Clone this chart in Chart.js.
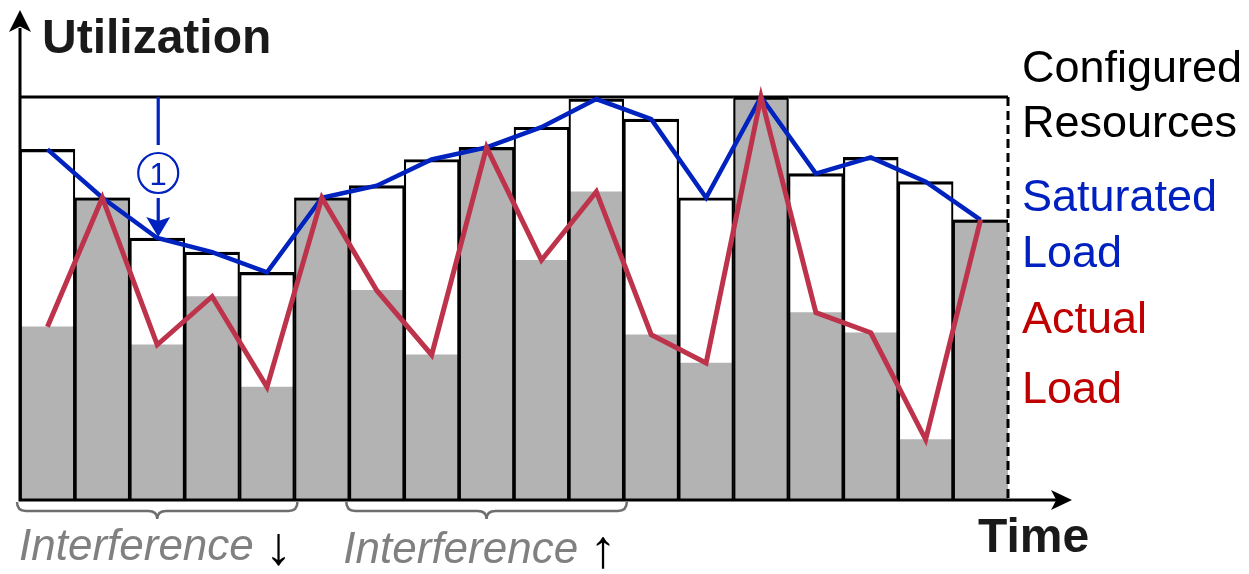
<!DOCTYPE html>
<html lang="en">
<head>
  <meta charset="UTF-8">
  <title>Utilization over time</title>
  <script src="https://cdn.jsdelivr.net/npm/chart.js@4.4.0/dist/chart.umd.min.js"></script>
  <style>
    html, body { margin: 0; padding: 0; background: #fff; }
    .chart-box { width: 1249px; height: 574px; position: relative; }
  </style>
</head>
<body>
  <div class="chart-box"><canvas id="utilChart"></canvas></div>

  <script>
    // 18 time slots along the x axis
    const slots = ['t1', 't2', 't3', 't4', 't5', 't6', 't7', 't8', 't9',
                   't10', 't11', 't12', 't13', 't14', 't15', 't16', 't17', 't18'];
    // utilization in % of the configured resources
    const saturatedLoad = [87, 75, 65, 61.5, 56.5, 75, 78, 84.5, 87.5, 92.5, 99.5, 94.5, 75, 100, 81, 85, 79, 69.5];
    const actualLoad = [43, 75, 38.5, 50.5, 28, 75, 52, 36, 87.5, 59.5, 76.5, 41, 34, 100, 46.5, 41.5, 15, 69.5];
    const configuredResources = 100;
    const yRange = [0, 100];
    // slots covered by the two braces under the axis
    const interferenceGroups = [
      { from: 0, to: 4, text: 'Interference', arrow: '↓' },
      { from: 6, to: 10, text: 'Interference', arrow: '↑' }
    ];
    const markedSlot = 2; // slot pointed at by the (1) annotation

    const FONT = "'Liberation Sans', Arial, sans-serif";
    const BLUE = '#0022BE';
    const RED = '#BE334C';
    const last = slots.length - 1;

    function arrowHead(ctx, x, y, dx, dy, len, half, notch) {
      const px = -dy, py = dx;
      const bx = x - dx * len, by = y - dy * len;
      ctx.beginPath();
      ctx.moveTo(x, y);
      ctx.lineTo(bx + px * half, by + py * half);
      ctx.lineTo(x - dx * len * notch, y - dy * len * notch);
      ctx.lineTo(bx - px * half, by - py * half);
      ctx.closePath();
      ctx.fill();
    }

    function brace(ctx, x1, x2, y0, y1, y2) {
      const mid = (x1 + x2) / 2, r = 9;
      ctx.beginPath();
      ctx.moveTo(x1, y0);
      ctx.quadraticCurveTo(x1, y1, x1 + r, y1);
      ctx.lineTo(mid - r, y1);
      ctx.quadraticCurveTo(mid, y1, mid, y2);
      ctx.quadraticCurveTo(mid, y1, mid + r, y1);
      ctx.lineTo(x2 - r, y1);
      ctx.quadraticCurveTo(x2, y1, x2, y0);
      ctx.stroke();
    }

    const decorations = {
      id: 'decorations',
      beforeDatasetsDraw(chart) {
        const { ctx, chartArea: a, scales: { y } } = chart;
        const yc = y.getPixelForValue(configuredResources);
        ctx.save();
        ctx.strokeStyle = '#000';
        ctx.lineWidth = 3;
        ctx.beginPath();
        ctx.moveTo(a.left, yc);
        ctx.lineTo(a.right, yc);
        ctx.stroke();
        ctx.restore();
      },
      afterDatasetsDraw(chart) {
        const { ctx, chartArea: a, scales: { x, y } } = chart;
        const yc = y.getPixelForValue(configuredResources);
        const half = (x.getPixelForValue(1) - x.getPixelForValue(0)) / 2;
        ctx.save();

        // dashed right edge of configured resources
        ctx.strokeStyle = '#000';
        ctx.lineWidth = 3;
        ctx.setLineDash([9, 5]);
        ctx.beginPath();
        ctx.moveTo(a.right, yc);
        ctx.lineTo(a.right, a.bottom);
        ctx.stroke();
        ctx.setLineDash([]);

        // axes with arrows
        ctx.fillStyle = '#000';
        ctx.beginPath();
        ctx.moveTo(a.left, a.bottom + 1.5);
        ctx.lineTo(a.left, 28);
        ctx.moveTo(a.left - 1.5, a.bottom);
        ctx.lineTo(a.right + 50, a.bottom);
        ctx.stroke();
        arrowHead(ctx, a.left, 10, 0, -1, 22, 11, 0.75);
        arrowHead(ctx, a.right + 64, a.bottom, 1, 0, 21, 10, 0.75);

        // (1) annotation
        const xm = x.getPixelForValue(markedSlot) + 1;
        const ym = y.getPixelForValue(saturatedLoad[markedSlot]);
        ctx.strokeStyle = BLUE;
        ctx.fillStyle = BLUE;
        ctx.lineWidth = 3.2;
        ctx.beginPath();
        ctx.moveTo(xm, yc);
        ctx.lineTo(xm, 145);
        ctx.moveTo(xm, 198);
        ctx.lineTo(xm, ym - 14);
        ctx.stroke();
        arrowHead(ctx, xm, ym - 1, 0, 1, 20, 12, 0.8);
        ctx.lineWidth = 2.2;
        ctx.beginPath();
        ctx.arc(xm, 173, 20, 0, Math.PI * 2);
        ctx.stroke();
        ctx.font = '31px ' + FONT;
        ctx.textAlign = 'center';
        ctx.textBaseline = 'alphabetic';
        ctx.fillText('1', xm, 185);

        // braces and interference labels
        ctx.textAlign = 'left';
        interferenceGroups.forEach((g, i) => {
          const x1 = x.getPixelForValue(g.from) - half - 3;
          const x2 = x.getPixelForValue(g.to) + half + 3;
          ctx.strokeStyle = '#6E6E6E';
          ctx.lineWidth = 2.5;
          brace(ctx, x1, x2, 502, 511, 519);
          const base = 560 + i * 3;
          const tx = x1 + 2 - i * 5;
          ctx.fillStyle = '#808080';
          ctx.font = 'italic 44px ' + FONT;
          ctx.fillText(g.text, tx, base);
          const w = ctx.measureText(g.text).width;
          ctx.fillStyle = '#000';
          ctx.font = '54px ' + FONT;
          ctx.textAlign = 'center';
          ctx.fillText(g.arrow, tx + w + 25, base + 4);
          ctx.textAlign = 'left';
        });

        // axis titles
        ctx.fillStyle = '#1A1A1A';
        ctx.font = 'bold 48px ' + FONT;
        ctx.fillText('Utilization', a.left + 22, 53);
        ctx.fillText('Time', 978, 552);

        // legend text on the right
        ctx.font = '45px ' + FONT;
        ctx.fillStyle = '#000';
        ctx.fillText('Configured', 1022, 82);
        ctx.fillText('Resources', 1022, 137);
        ctx.fillStyle = '#0020C0';
        ctx.fillText('Saturated', 1022, 211);
        ctx.fillText('Load', 1022, 267);
        ctx.fillStyle = '#C00000';
        ctx.fillText('Actual', 1022, 333);
        ctx.fillText('Load', 1022, 403);

        ctx.restore();
      }
    };

    const ctx = document.getElementById('utilChart').getContext('2d');
    new Chart(ctx, {
      data: {
        labels: slots,
        datasets: [
          {
            type: 'line',
            label: 'Actual Load',
            data: actualLoad,
            borderColor: RED,
            borderWidth: 5,
            pointRadius: 0,
            tension: 0,
            clip: false,
            order: 1
          },
          {
            type: 'line',
            label: 'Saturated Load',
            data: saturatedLoad,
            borderColor: BLUE,
            borderWidth: 4.5,
            pointRadius: 0,
            tension: 0,
            clip: false,
            order: 2
          },
          {
            type: 'bar',
            label: 'Saturated (outline)',
            data: saturatedLoad,
            backgroundColor: 'rgba(255,255,255,0)',
            borderColor: '#000',
            borderWidth: (c) => c.dataIndex === last
              ? { top: 2.5, left: 1.5, right: 0, bottom: 0 }
              : { top: 2.5, left: 1.5, right: 1.5, bottom: 0 },
            barPercentage: 1,
            categoryPercentage: 1,
            grouped: false,
            order: 3
          },
          {
            type: 'bar',
            label: 'Actual (fill)',
            data: actualLoad,
            backgroundColor: '#B3B3B3',
            borderWidth: 0,
            barPercentage: 1,
            categoryPercentage: 1,
            grouped: false,
            order: 4
          }
        ]
      },
      options: {
        responsive: true,
        maintainAspectRatio: false,
        animation: false,
        events: [],
        layout: { padding: { left: 20, right: 241, top: 97, bottom: 74 } },
        scales: {
          x: { display: false },
          y: { display: false, min: yRange[0], max: yRange[1] }
        },
        plugins: {
          legend: { display: false },
          tooltip: { enabled: false }
        }
      },
      plugins: [decorations]
    });
  </script>
</body>
</html>
